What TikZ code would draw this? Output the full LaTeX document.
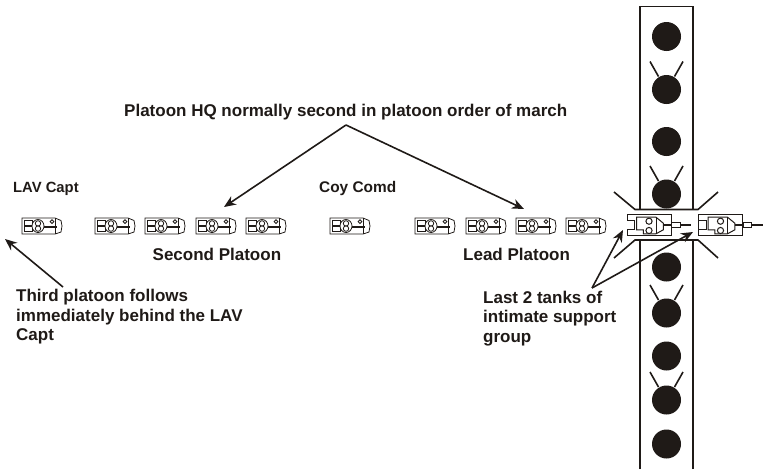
\documentclass[tikz,border=0pt]{standalone}
\usepackage{fontspec}
\setmainfont{Liberation Sans}
\usetikzlibrary{arrows.meta,calc}
\definecolor{ink}{HTML}{1F1A17}
\tikzset{
  x=1pt,y=-1pt,
  lbl/.style={font=\bfseries\fontsize{17}{19.7}\selectfont,text=ink,inner sep=0pt,anchor=north west,align=left},
  wall/.style={draw=ink,line width=1.6pt},
  arr/.style={draw=ink,line width=1.6pt,-{Stealth[length=12pt,width=10pt]}},
  part/.style={draw=ink,line width=0.8pt,fill=white},
  bpart/.style={draw=ink,line width=1pt,fill=white},
  tankgun/.style={draw=ink,line width=2pt},
  pics/smalltank/.style={code={
    \draw[part] (0,0) -- (33,0) -- (39,2.5) -- (40,8) -- (39,14) -- (33,16) -- (0,16) -- cycle;
    \draw[part] (33,0) -- (33,16);
    \draw[part] (2,2.5) rectangle (10,7.5);
    \draw[part] (2,8.5) rectangle (10,13.5);
    \draw[part] (16,8) ellipse (6 and 6.5);
    \draw[part] (16,5.4) circle (2.7);
    \draw[part] (16,10.6) circle (2.7);
    \draw[tankgun] (22,9) -- (35,9);
    \draw[part] (30,3.6) circle (1.9);
  }},
  pics/bigtank/.style={code={
    \draw[bpart] (0,0) rectangle (44,21);
    \draw[bpart] (0,6) -- (7.5,6) -- (7.5,15.3) -- (0,15.3);
    \draw[bpart] (9.7,2.7) -- (29,2.7) -- (36.3,8.7) -- (36.3,15.3) -- (29,19.3) -- (16.3,19.3) -- (16.3,15.3) -- (9.7,15.3) -- cycle;
    \draw[bpart] (22,6.7) circle (3.1);
    \draw[bpart] (22,16) circle (3.1);
    \draw[bpart] (29,2.7) -- (29,19.3);
    \draw[tankgun,line width=2.2pt] (36,10.5) -- (45,10.5);
    \draw[bpart] (44.7,8.3) rectangle (53,13.3);
    \draw[tankgun,line width=2.2pt] (53,10.7) -- (64,10.7);
  }}
}
\newcommand{\roadtank}[2]{%
  \node[circle,fill=ink,minimum size=29pt,inner sep=0pt] (#1) at (666.5,#2) {};}
\newcommand{\raytank}[2]{%
  \roadtank{#1}{#2}
  \coordinate (#1l) at ($(#1)+(-16.5,-28)$);
  \coordinate (#1r) at ($(#1)+(16.5,-28)$);
  \coordinate (#1a) at ($(#1)+(-8,-13)$);
  \coordinate (#1b) at ($(#1)+(8,-13)$);
  \draw[wall] (#1l) -- (#1a);
  \draw[wall] (#1r) -- (#1b);}
\begin{document}
\begin{tikzpicture}
\useasboundingbox (0,0) rectangle (765,469);
% road
\coordinate (rtl) at (640,6.5);
\coordinate (rtr) at (693,6.5);
\coordinate (rm1l) at (640,209.5);
\coordinate (rm1r) at (693,209.5);
\coordinate (fl1a) at (635,209.5);
\coordinate (fr1a) at (698,209.5);
\coordinate (fl1) at (614,192);
\coordinate (fr1) at (718,192);
\coordinate (rm2l) at (640,240);
\coordinate (rm2r) at (693,240);
\coordinate (fl2a) at (635,240);
\coordinate (fr2a) at (698,240);
\coordinate (fl2) at (614,258);
\coordinate (fr2) at (718,258);
\coordinate (rbl) at (640,469);
\coordinate (rbr) at (693,469);
\draw[wall] (rm1l) -- (rtl) -- (rtr) -- (rm1r);
\draw[wall] (fl1) -- (fl1a) -- (fr1a) -- (fr1);
\draw[wall] (rbl) -- (rm2l);
\draw[wall] (rbr) -- (rm2r);
\draw[wall] (fl2) -- (fl2a) -- (fr2a) -- (fr2);
\roadtank{c1}{36.5}
\raytank{c2}{89.5}
\roadtank{c3}{141.5}
\raytank{c4}{194}
\roadtank{c5}{267}
\raytank{c6}{313}
\roadtank{c7}{356}
\raytank{c8}{400}
\roadtank{c9}{444}
% small tanks
\foreach \xx in {22,95,145,196,246,330,415,466,516,566}
  \pic at (\xx,218) {smalltank};
% big tanks
\pic at (627,214.5) {bigtank};
\pic at (698.5,214.5) {bigtank};
% labels
\node[lbl] (hq) at (124,104) {Platoon HQ normally second in platoon order of march};
\node[lbl,font=\bfseries\fontsize{14.8}{18}\selectfont] (lav) at (13,182) {LAV Capt};
\node[lbl,font=\bfseries\fontsize{15.4}{18}\selectfont] (coy) at (319,181) {Coy Comd};
\node[lbl] (sec) at (152.5,248) {Second Platoon};
\node[lbl] (lead) at (463,248) {Lead Platoon};
\node[lbl] (third) at (16,289) {Third platoon follows\\immediately behind the LAV\\Capt};
\node[lbl] (last) at (483,290.5) {Last 2 tanks of\\intimate support\\group};
% connectors
\coordinate (apex) at (346,125);
\coordinate (hq2) at (224,207);
\coordinate (hq1) at (524,209);
\draw[arr] (apex) -- (hq2);
\draw[arr] (apex) -- (hq1);
\coordinate (t1) at (63,287);
\coordinate (t2) at (5,239);
\draw[arr] (t1) -- (t2);
\coordinate (l0) at (592,288);
\coordinate (l1) at (623,230);
\coordinate (l2) at (693,232);
\draw[arr] (l0) -- (l1);
\draw[arr] (l0) -- (l2);
\end{tikzpicture}
\end{document}
